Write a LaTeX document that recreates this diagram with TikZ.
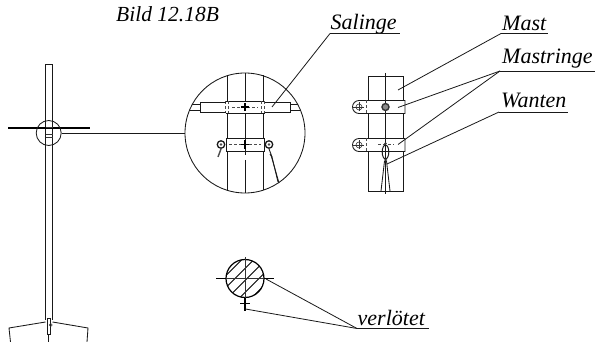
\documentclass[tikz,border=0pt]{standalone}
\usepackage{fontspec}
\setmainfont{Liberation Serif}
\tikzset{
  ln/.style={draw=black!90,line width=0.85pt},
  thin ln/.style={draw=black!80,line width=0.6pt},
  thick ln/.style={draw=black,line width=1.2pt},
  hatch ln/.style={draw=black,line width=0.75pt},
  hid/.style={draw=black!70,line width=0.6pt,dash pattern=on 3pt off 2pt},
  lab/.style={font=\itshape\fontsize{22}{24}\selectfont,inner sep=0pt,anchor=base west,text=black},
  ttl/.style={font=\itshape\fontsize{21.5}{24}\selectfont,inner sep=0pt,anchor=base west,text=black},
  lead/.style={draw=black!90,line width=0.8pt}
}
\begin{document}
\begin{tikzpicture}[x=1pt,y=-1pt]
\useasboundingbox (0,0) rectangle (595,342);
\fill[white] (0,0) rectangle (595,342);
% labels
\node[ttl] (title) at (116,22) {Bild 12.18B};
\node[lab] (salinge) at (330.5,30) {Salinge};
\node[lab] (mast) at (502,30.5) {Mast};
\node[lab] (mastringe) at (502,64) {Mastringe};
\node[lab] (wanten) at (501,107.5) {Wanten};
\node[lab] (verl) at (357.5,325.5) {verlötet};
% underline ends
\coordinate (salA) at (330,33.5); \coordinate (salB) at (400,33.5);
\coordinate (mastA) at (501,33.5); \coordinate (mastB) at (548,33.5);
\coordinate (mrA) at (500,71); \coordinate (mrB) at (595,71);
\coordinate (waA) at (499,112); \coordinate (waB) at (568,112);
\coordinate (veA) at (357,328.5); \coordinate (veB) at (429,328.5);
\foreach \a/\b in {salA/salB,mastA/mastB,mrA/mrB,waA/waB,veA/veB}
  \draw[lead] (\a) -- (\b);
% --- left mast
\coordinate (lmTL) at (45.5,64); \coordinate (lmTR) at (52.5,64);
\draw[ln] (45.5,320) -- (lmTL) -- (lmTR) -- (52.5,320);
\draw[thick ln] (8,128) -- (90,128);
\node[circle,ln,minimum size=25pt,inner sep=0pt,fill=none] (smallc) at (48.7,133) {};
\draw[thin ln] (45.5,127) -- (52.5,127) (45.5,134) -- (52.5,134) (45.5,137) -- (52.5,137);
% foot
\draw[ln] (47.5,318) rectangle (50.8,334);
\draw[ln] (45.5,322) -- (9,328) -- (10.5,342);
\draw[ln] (52.5,322) -- (88,328) -- (87,342);
\draw[ln] (48.5,334) -- (48.5,342);
\draw[thin ln] (50.8,325) circle (1.5);
% --- big circle
\node[circle,ln,minimum size=120pt,inner sep=0pt] (bigc) at (245,133) {};
\draw[ln] (smallc.east) -- (bigc.west);
\draw[ln] (227,75.5) -- (227,190.5) (263,75.5) -- (263,190.5);
\draw[ln] (245,73) -- (245,155) (245,160) -- (245,193);
% upper ring and spreader
\fill[white] (225,101) rectangle (265,113.5);
\draw[ln] (225.5,101.5) -- (264.5,101.5) (225.5,113) -- (264.5,113);
\draw[hid] (225.5,101.5) -- (225.5,113) (264.5,101.5) -- (264.5,113);
\draw[hid] (228.5,101.5) -- (228.5,113) (261.5,101.5) -- (261.5,113);
\draw[ln] (225.5,102.5) -- (200,102.5) -- (200,112) -- (225.5,112);
\draw[ln] (264.5,102.5) -- (290,102.5) -- (290,112) -- (264.5,112);
\draw[ln] (200,104) -- (192,104) (200,110) -- (189.5,110);
\draw[ln] (290,104) -- (298,104) (290,110) -- (300.5,110);
\draw[hid] (232,107) -- (258,107);
\draw[thick ln] (241,107) -- (249,107) (245,103) -- (245,111);
% lower ring
\fill[white] (225,138.5) rectangle (265,151);
\draw[ln] (226,138.5) -- (264,138.5) -- (264,151) -- (226,151) -- cycle;
\draw[hid] (229,144.5) -- (261,144.5);
\draw[ln] (245,138.5) -- (245,151);
\draw[thick ln] (241,144.5) -- (249,144.5) (245,140) -- (245,149);
% eyes and wires
\foreach \n/\x in {eyeL/221,eyeR/269}{
  \node[circle,draw=black!90,line width=1.3pt,minimum size=7.5pt,inner sep=0pt] (\n) at (\x,144.5) {};
  \fill[black!70] (\x,144.5) circle (1.4);
}
\draw[draw=black!70,line width=1.4pt] (eyeL.south) -- (218,157);
\draw[ln] (eyeR.south) -- (272,157);
\draw[ln] (270,154) -- (272,157) -- (278,182);
\draw[ln] (271,155) -- (279,183);
% --- right mast
\draw[ln] (368,76) -- (403,76) -- (403,191) -- (368,191) -- cycle;
\draw[ln] (385,73) -- (385,194);
\foreach \y/\t in {100.5/a,138.5/b}{
  \fill[white] (366,\y) rectangle (405,\y+13);
  \draw[ln] (405,\y) -- (359,\y) arc[start angle=270,end angle=90,radius=6.5] -- (405,\y+13) -- cycle;
  \draw[hid] (366.5,\y) -- (366.5,\y+13);
  \draw[thin ln] (359,\y+6.5) circle (3);
  \draw[thin ln] (352,\y+6.5) -- (364,\y+6.5) (359,\y+2) -- (359,\y+11);
  \draw[ln] (385,\y) -- (385,\y+13);
}
\node[circle,draw=black!80,line width=1.4pt,minimum size=7pt,inner sep=0pt,fill=black!45] (bolt) at (385.5,107) {};
\draw[hid] (378,144.5) -- (394,144.5);
% shackle and wires, right mast
\draw[ln,line width=1pt] (385.5,152) ellipse (3.3 and 7);
\fill[black!80] (385.5,143.5) circle (1.3) (385.5,160) circle (1.5);
\coordinate (wL) at (381,191); \coordinate (wR) at (390,191);
\draw[ln] (384.5,161) -- (wL) (386.5,161) -- (wR);
% leaders
\coordinate (pSal) at (272,107);
\coordinate (pMast) at (398,90);
\coordinate (pR1) at (398,107.5);
\coordinate (pR2) at (398,144.5);
\coordinate (pWa) at (387,164);
\draw[lead] (salA) -- (pSal);
\draw[lead] (mastA) -- (pMast);
\draw[lead] (mrA) -- (pR1);
\draw[lead] (mrA) -- (pR2);
\draw[lead] (waA) -- (pWa);
% --- section
\begin{scope}
  \clip (245,278.5) circle (19);
  \foreach \xa in {201,213,225,237,249,261}
    \draw[hatch ln] (\xa,300.5) -- ++(44,-44);
\end{scope}
\node[circle,draw=black,line width=1.2pt,minimum size=38pt,inner sep=0pt] (secb) at (245,278.5) {};
\draw[thin ln] (216,278.5) -- (274,278.5) (245,257) -- (245,300);
\draw[thick ln] (216,278.5) -- (226,278.5) (264,278.5) -- (274,278.5);
\draw[thick ln] (240,303.5) -- (250,303.5) (245,298) -- (245,311);
\coordinate (pV1) at (266,279);
\coordinate (pV2) at (245.5,309);
\draw[lead] (veA) -- (pV1);
\draw[lead] (veA) -- (pV2);
\end{tikzpicture}
\end{document}
